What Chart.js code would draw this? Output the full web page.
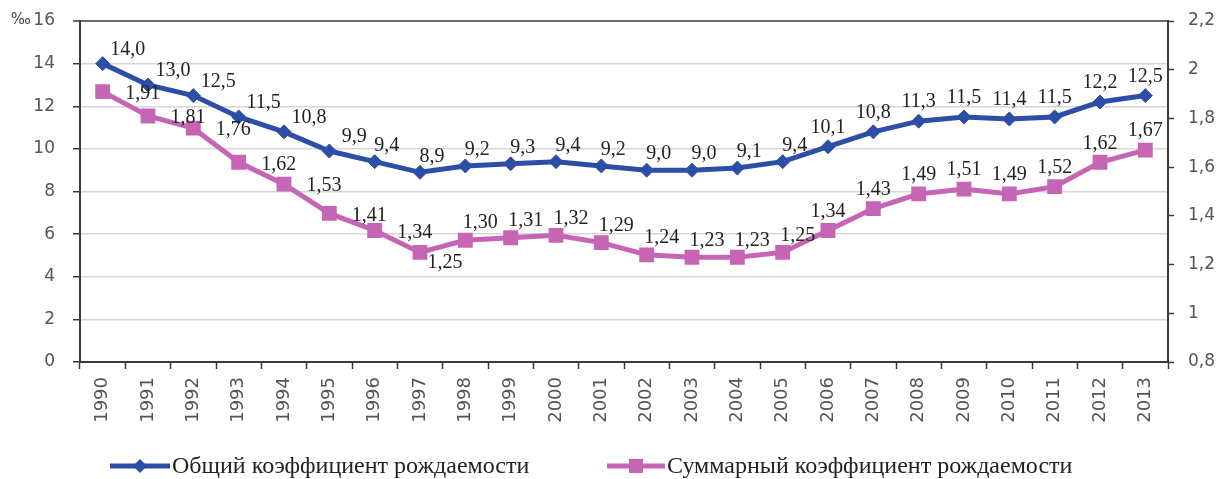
<!DOCTYPE html>
<html><head><meta charset="utf-8">
<script src="https://cdn.jsdelivr.net/npm/chart.js@4/dist/chart.umd.min.js"></script>
<style>html,body{margin:0;padding:0;background:#fff}#wrap{position:relative;width:1220px;height:479px}</style>
</head><body><div id="wrap"><canvas id="c" width="1220" height="479"></canvas></div>
<script>
const years = ['1990','1991','1992','1993','1994','1995','1996','1997','1998','1999','2000','2001','2002','2003','2004','2005','2006','2007','2008','2009','2010','2011','2012','2013'];
const crudeBirthRate = [14.0,13.0,12.5,11.5,10.8,9.9,9.4,8.9,9.2,9.3,9.4,9.2,9.0,9.0,9.1,9.4,10.1,10.8,11.3,11.5,11.4,11.5,12.2,12.5];
const totalFertilityRate = [1.91,1.81,1.76,1.62,1.53,1.41,1.34,1.25,1.30,1.31,1.32,1.29,1.24,1.23,1.23,1.25,1.34,1.43,1.49,1.51,1.49,1.52,1.62,1.67];
const leftAxisRange = [0, 16, 2];
const rightAxisRange = [0.8, 2.2, 0.2];
const seriesNames = ['Общий коэффициент рождаемости', 'Суммарный коэффициент рождаемости'];
const leftUnit = '‰';

const BLUE = '#2C4EA6';
const PINK = '#C565B4';
const AXIS = '#3a3a3a';

function fmt(v, dec) {
  return Number(v.toFixed(dec)).toString().replace('.', ',');
}

// label placement rules (offsets of label centre relative to point)
function blueOffset(i) {
  if (i <= 5) return [25, -14];
  if (i <= 15) return [12, -16];
  return [0, -19];
}
function pinkOffset(i) {
  if (i <= 6) return [40, 2];
  if (i === 7) return [25, 10];
  if (i <= 15) return [15, -17];
  return [0, -19];
}

const labelsPlugin = {
  id: 'pointLabels',
  afterDatasetsDraw(chart) {
    const ctx = chart.ctx;
    ctx.save();
    ctx.font = '20px "Liberation Serif", serif';
    ctx.fillStyle = '#222';
    ctx.textAlign = 'center';
    ctx.textBaseline = 'middle';
    chart.data.datasets.forEach((ds, di) => {
      const meta = chart.getDatasetMeta(di);
      meta.data.forEach((pt, i) => {
        const off = di === 0 ? blueOffset(i) : pinkOffset(i);
        const t = ds.data[i].toFixed(di === 0 ? 1 : 2).replace('.', ',');
        ctx.fillText(t, pt.x + off[0], pt.y + off[1]);
      });
    });
    ctx.restore();
  }
};

const extrasPlugin = {
  id: 'extras',
  afterDraw(chart) {
    const ctx = chart.ctx;
    const ya = chart.scales.y;
    ctx.save();
    ctx.font = '15px "DejaVu Sans", sans-serif';
    ctx.fillStyle = '#444';
    ctx.textAlign = 'right';
    ctx.textBaseline = 'middle';
    ctx.fillText(leftUnit, 31, ya.getPixelForValue(leftAxisRange[1]) - 1);
    const ly = 466;
    const items = [
      {x0: 110, x1: 170, color: BLUE, marker: 'diamond', text: seriesNames[0], tx: 172},
      {x0: 607, x1: 665, color: PINK, marker: 'square', text: seriesNames[1], tx: 667}
    ];
    items.forEach(it => {
      ctx.strokeStyle = it.color;
      ctx.lineWidth = 5;
      ctx.beginPath(); ctx.moveTo(it.x0, ly); ctx.lineTo(it.x1, ly); ctx.stroke();
      ctx.fillStyle = it.color;
      const cx = (it.x0 + it.x1) / 2;
      ctx.beginPath();
      if (it.marker === 'diamond') {
        ctx.moveTo(cx, ly - 7); ctx.lineTo(cx + 7, ly); ctx.lineTo(cx, ly + 7); ctx.lineTo(cx - 7, ly);
      } else {
        ctx.rect(cx - 7, ly - 7, 14, 14);
      }
      ctx.closePath(); ctx.fill();
      ctx.fillStyle = '#222';
      ctx.font = '24px "Liberation Serif", serif';
      ctx.textAlign = 'left';
      ctx.textBaseline = 'middle';
      ctx.fillText(it.text, it.tx, ly + 1);
    });
    ctx.restore();
  }
};

new Chart(document.getElementById('c'), {
  type: 'line',
  data: {
    labels: years,
    datasets: [
      {
        label: seriesNames[0], data: crudeBirthRate, yAxisID: 'y',
        borderColor: BLUE, backgroundColor: BLUE, borderWidth: 5,
        pointStyle: 'rectRot', pointRadius: 7, pointBorderWidth: 1, pointBorderColor: BLUE,
        tension: 0, order: 1
      },
      {
        label: seriesNames[1], data: totalFertilityRate, yAxisID: 'y1',
        borderColor: PINK, backgroundColor: PINK, borderWidth: 5,
        pointStyle: 'rect', pointRadius: 10.5, pointBorderWidth: 0, pointBorderColor: PINK,
        tension: 0, order: 2
      }
    ]
  },
  options: {
    responsive: false,
    animation: false,
    devicePixelRatio: 1,
    layout: {padding: {top: 21, bottom: 39, left: 0, right: 0}},
    plugins: {legend: {display: false}, tooltip: {enabled: false}},
    scales: {
      x: {
        type: 'category', offset: true,
        grid: {drawOnChartArea: false, drawTicks: true, tickLength: 7, tickColor: AXIS, offset: true, tickWidth: 1.5},
        border: {color: AXIS, width: 2},
        ticks: {minRotation: 90, maxRotation: 90, autoSkip: false, padding: 8, color: '#555', font: {family: 'DejaVu Sans', size: 18}},
        afterFit(s) { s.height = 78; }
      },
      y: {
        position: 'left', min: leftAxisRange[0], max: leftAxisRange[1],
        ticks: {stepSize: leftAxisRange[2], padding: 18, color: '#555', font: {family: 'DejaVu Sans', size: 17}},
        grid: {
          color: c => (c.tick && c.tick.value === leftAxisRange[1]) ? '#6a6a6a' : '#d6d6d6',
          lineWidth: c => (c.tick && c.tick.value === leftAxisRange[1]) ? 2 : 1.5,
          tickLength: 7, tickColor: AXIS, tickWidth: 1.5
        },
        border: {color: AXIS, width: 2},
        afterFit(s) { s.width = 80; s.paddingTop = 10; s.paddingBottom = 10; }
      },
      y1: {
        position: 'right', min: rightAxisRange[0], max: rightAxisRange[1],
        ticks: {stepSize: rightAxisRange[2], padding: 14, color: '#555', font: {family: 'DejaVu Sans', size: 17},
          callback: v => fmt(v, 1)},
        grid: {drawOnChartArea: false, tickLength: 6, tickColor: AXIS, tickWidth: 1.5},
        border: {color: AXIS, width: 2},
        afterFit(s) { s.width = 52; s.paddingTop = 10; s.paddingBottom = 10; }
      }
    }
  },
  plugins: [labelsPlugin, extrasPlugin]
});
</script></body></html>
